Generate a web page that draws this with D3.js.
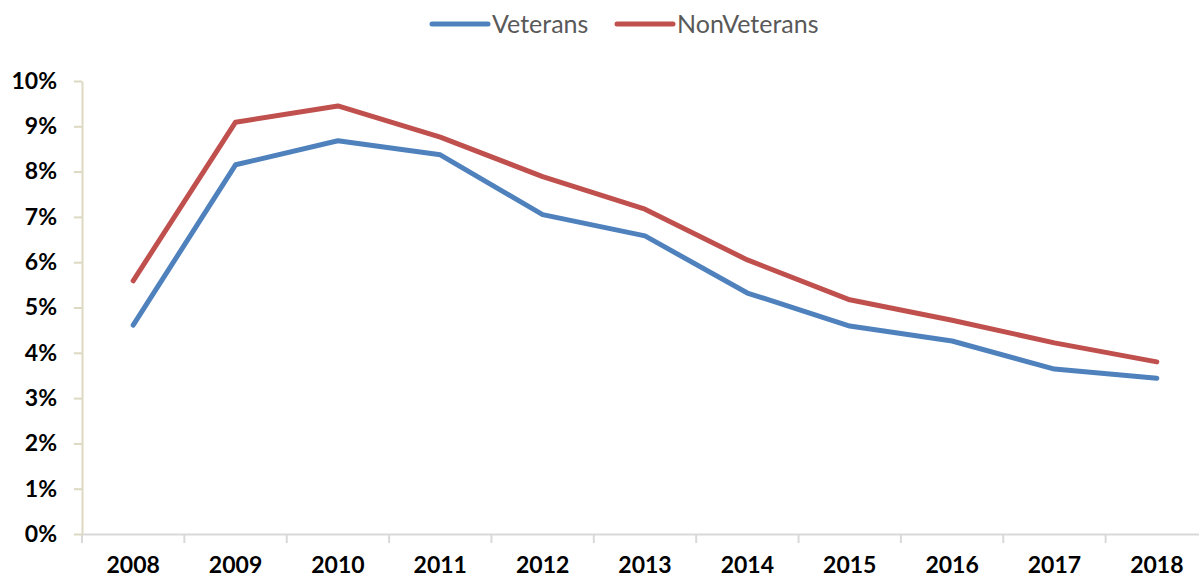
<!DOCTYPE html>
<meta charset="utf-8">
<style>
body { margin: 0; background: #fff; }
.axis text { font: bold 23px Lato, "Open Sans", sans-serif; fill: #000; }
.axis--x path, .axis--x line { stroke: #d9d9d9; stroke-width: 2px; }
.axis--y path, .axis--y line { stroke: #ddd9c3; stroke-width: 2px; }
.line { fill: none; stroke-width: 5px; stroke-linecap: round; stroke-linejoin: round; }
.legend text { font: 25px Lato, "Open Sans", sans-serif; fill: #595959; }
</style>
<svg width="1199" height="581"></svg>
<script src="https://cdnjs.cloudflare.com/ajax/libs/d3/7.8.5/d3.min.js"></script>
<script>

var years = ["2008", "2009", "2010", "2011", "2012", "2013", "2014", "2015", "2016", "2017", "2018"];
var veterans = [4.61, 8.15, 8.68, 8.37, 7.05, 6.58, 5.32, 4.59, 4.26, 3.64, 3.44];
var nonVeterans = [5.59, 9.09, 9.45, 8.76, 7.89, 7.17, 6.05, 5.17, 4.72, 4.22, 3.80];
var yTicks = [0, 1, 2, 3, 4, 5, 6, 7, 8, 9, 10];

var series = [
  {name: "Veterans", color: "#4f81bd", values: veterans},
  {name: "NonVeterans", color: "#c0504d", values: nonVeterans}
];

var svg = d3.select("svg");

var x = d3.scaleBand().domain(years).range([82, 1208]),
    y = d3.scaleLinear().domain([0, 10]).range([534, 81]);

svg.append("g")
    .attr("class", "axis axis--x")
    .attr("transform", "translate(0," + y(0) + ")")
    .call(d3.axisBottom(x).tickSize(0).tickPadding(23))
  .call(function(g) {
    g.selectAll(".tick line").remove();
    g.selectAll(".sep")
      .data(years)
      .enter().append("line")
        .attr("class", "sep")
        .attr("x1", function(d) { return x(d); })
        .attr("x2", function(d) { return x(d); })
        .attr("y1", 0)
        .attr("y2", 9);
  });

svg.append("g")
    .attr("class", "axis axis--y")
    .attr("transform", "translate(82,0)")
    .call(d3.axisLeft(y).tickValues(yTicks).tickSize(8).tickSizeOuter(0).tickPadding(17)
      .tickFormat(function(d) { return d + "%"; }));

var line = d3.line()
    .x(function(d, i) { return x(years[i]) + x.bandwidth() / 2; })
    .y(function(d) { return y(d); });

svg.selectAll(".line")
  .data(series)
  .enter().append("path")
    .attr("class", "line")
    .attr("d", function(d) { return line(d.values); })
    .style("stroke", function(d) { return d.color; });

// legend
var legendX = [432, 617];
var legend = svg.selectAll(".legend")
  .data(series)
  .enter().append("g")
    .attr("class", "legend")
    .attr("transform", function(d, i) { return "translate(" + legendX[i] + ",24)"; });

legend.append("line")
    .attr("x1", 0).attr("x2", 56)
    .attr("stroke", function(d) { return d.color; })
    .attr("stroke-width", 5)
    .attr("stroke-linecap", "round");

legend.append("text")
    .attr("x", 60)
    .attr("dy", "0.36em")
    .text(function(d) { return d.name; });

</script>
